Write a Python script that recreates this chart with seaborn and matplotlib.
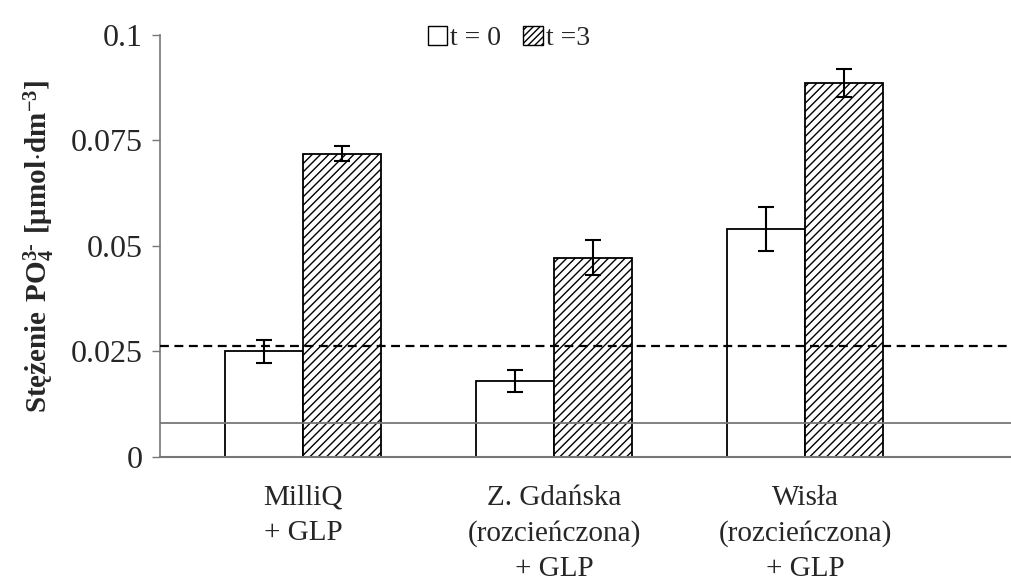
import numpy as np
import pandas as pd
import seaborn as sns
import matplotlib.pyplot as plt
from matplotlib.patches import Patch

# data
sites = ['MilliQ\n+ GLP', 'Z. Gdańska\n(rozcieńczona)\n+ GLP', 'Wisła\n(rozcieńczona)\n+ GLP']
times = ['t = 0', 't =3']
t0_vals = [0.0250, 0.0180, 0.0540]
t3_vals = [0.0718, 0.0472, 0.0886]
t0_err = [0.0027, 0.0025, 0.0052]
t3_err = [0.0018, 0.0042, 0.0034]
dashed_level = 0.0263
solid_level = 0.0080

df = pd.DataFrame({
    'site': sites * 2,
    'time': [times[0]] * 3 + [times[1]] * 3,
    'value': t0_vals + t3_vals,
    'err': t0_err + t3_err,
})

sns.set_theme(style='white')
plt.rcParams['font.family'] = ['Liberation Serif', 'DejaVu Serif']
plt.rcParams['hatch.linewidth'] = 1.0
plt.rcParams['mathtext.fontset'] = 'custom'
plt.rcParams['mathtext.rm'] = 'Liberation Serif'
plt.rcParams['mathtext.bf'] = 'Liberation Serif:bold'

fig = plt.figure(figsize=(10.11, 5.8), dpi=100)
ax = fig.add_axes([0.158, 0.212, 0.842, 0.728])

sns.barplot(data=df, x='site', y='value', hue='time', order=sites, hue_order=times,
            palette=['white', 'white'], width=0.62, gap=0, errorbar=None,
            edgecolor='black', linewidth=1.3, legend=False, ax=ax)

# hatch the t=3 bars and add error bars from the bar positions
bars = ax.patches
for i, bar in enumerate(bars):
    if i >= len(sites):
        bar.set_hatch('////')
    xc = bar.get_x() + bar.get_width() / 2
    ax.errorbar(xc, df['value'].iloc[i], yerr=df['err'].iloc[i], fmt='none',
                ecolor='black', elinewidth=1.5, capsize=6, capthick=1.5, zorder=5)

ax.axhline(dashed_level, color='black', linestyle=(0, (4, 2.5)), linewidth=1.6, zorder=4)
ax.axhline(solid_level, color='#777777', linewidth=1.3, zorder=4)

ax.set_ylim(0, 0.1)
ax.set_xlim(-0.57, 2.82)
ax.set_yticks([0, 0.025, 0.05, 0.075, 0.1])
ax.set_yticklabels(['0', '0.025', '0.05', '0.075', '0.1'])
ax.tick_params(axis='y', which='major', left=True, length=6, width=1, color='#777777',
               labelsize=23, pad=6)
ax.tick_params(axis='x', bottom=False, labelsize=21, pad=14)
for lab in ax.get_xticklabels():
    lab.set_linespacing(1.45)

sns.despine(ax=ax, top=True, right=True)
ax.spines['left'].set_color('#777777')
ax.spines['bottom'].set_color('#777777')
ax.spines['left'].set_linewidth(1.2)
ax.spines['bottom'].set_linewidth(1.5)

ax.set_xlabel('')
ax.set_ylabel(r'$\mathbf{Stężenie\ PO_4^{3\text{-}}\ [\mu mol{\cdot}dm^{-3}]}$', fontsize=21, labelpad=10)

handles = [Patch(facecolor='white', edgecolor='black', linewidth=1.0),
           Patch(facecolor='white', edgecolor='black', linewidth=1.0, hatch='/////')]
ax.legend(handles, times, loc='upper center', bbox_to_anchor=(0.41, 1.08), ncol=2,
          frameon=False, fontsize=20, handlelength=0.7, handleheight=0.7,
          handletextpad=0.1, columnspacing=0.8)

fig.savefig('out.png', dpi=100)
